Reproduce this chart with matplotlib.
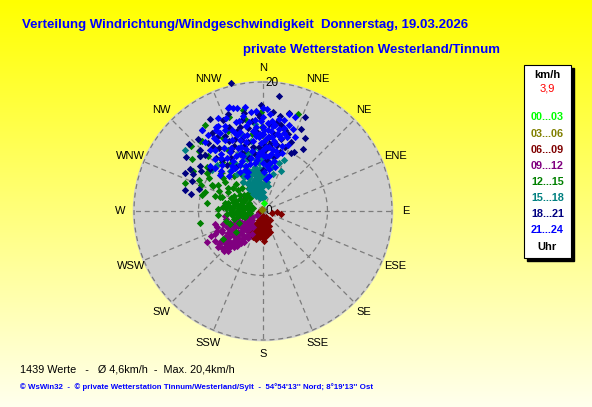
import numpy as np
import matplotlib
matplotlib.use("Agg")
import matplotlib.pyplot as plt
from matplotlib.patches import Rectangle

plt.rcParams['font.family'] = ['Liberation Sans', 'DejaVu Sans']

W, H = 592, 407

title1 = "Verteilung Windrichtung/Windgeschwindigkeit  Donnerstag, 19.03.2026"
title2 = "private Wetterstation Westerland/Tinnum"
stats_text = "1439 Werte   -   \u00d8 4,6km/h  -  Max. 20,4km/h"
credit_text = ("\u00a9 WsWin32  -  \u00a9 private Wetterstation Tinnum/Westerland/Sylt  -  "
               "54\u00b054'13'' Nord; 8\u00b019'13'' Ost")
current_speed = "3,9"

directions = ["N", "NNE", "NE", "ENE", "E", "ESE", "SE", "SSE",
              "S", "SSW", "SW", "WSW", "W", "WNW", "NW", "NNW"]
ring_labels = [(20, "20"), (10, "10"), (0, "0")]

hour_labels = ["00...03", "03...06", "06...09", "09...12",
               "12...15", "15...18", "18...21", "21...24"]
hour_colors = ["#00ff00", "#808000", "#800000", "#800080",
               "#008000", "#008080", "#000080", "#0000ff"]

# (direction in degrees, speed in km/h) per three-hour block
h00 = [(5, 1.2)]
h03 = [(322, 0.3), (300, 0.2)]
h06 = [(261, 0.7), (105, 1.4), (93, 2.1), (98, 2.8), (188, 1.4), (179, 2.4), (175, 3.5),
       (200, 3.7), (201, 4.3), (189, 3.0), (163, 2.0), (212, 3.8), (207, 2.1), (176, 4.0),
       (170, 3.0), (183, 3.3), (195, 2.6), (186, 4.1), (172, 2.2), (166, 2.9), (192, 1.9),
       (203, 3.0), (180, 1.6), (160, 1.5), (150, 1.0), (194, 4.4), (178, 4.6), (209, 4.4),
       (198, 3.4), (184, 2.0), (168, 3.7), (214, 2.9), (190, 3.8), (174, 1.3), (205, 4.0),
       (220, 3.4), (196, 1.2), (140, 1.8), (185, 3.6), (188, 2.5), (193, 3.2), (197, 4.1),
       (202, 2.4), (207, 3.2), (211, 2.5), (172, 3.2), (177, 3.0), (181, 4.2), (169, 2.5),
       (162, 3.5), (157, 2.5), (181, 0.8), (204, 1.5)]
h09 = [(255, 7.7), (241, 10.0), (243, 7.2), (238, 6.4), (240, 5.0), (239, 3.2), (231, 2.2),
       (237, 1.2), (223, 6.8), (220, 4.8), (236, 7.1), (223, 5.7), (227, 8.1), (276, 6.3),
       (308, 3.6), (228, 3.5), (232, 4.2), (235, 5.5), (229, 6.0), (225, 7.4), (230, 7.6),
       (233, 8.5), (244, 8.3), (246, 6.1), (248, 4.6), (245, 3.9), (250, 5.4), (252, 6.6),
       (218, 6.2), (215, 5.3), (213, 4.4), (217, 3.5), (221, 2.8), (226, 2.5), (242, 2.6),
       (234, 3.0), (230, 5.0), (226, 5.2), (222, 7.6), (219, 7.1), (216, 6.8), (224, 8.6),
       (231, 8.9), (238, 8.8), (244, 9.0), (251, 7.6), (249, 3.0), (256, 4.2), (258, 5.8),
       (262, 6.0), (236, 4.0), (241, 5.8), (233, 6.6), (228, 7.0), (212, 5.6), (210, 4.8),
       (212, 3.0), (206, 4.0), (214, 6.0), (217, 5.0), (220, 6.0), (222, 4.0), (225, 3.0),
       (227, 4.5), (229, 5.5), (232, 5.8), (234, 7.0), (237, 6.0), (239, 4.5), (241, 3.8),
       (243, 5.0), (245, 7.0), (247, 7.8), (235, 8.0), (228, 8.6), (221, 8.2), (219, 6.6),
       (224, 6.3), (231, 3.4), (236, 2.6), (240, 2.0), (244, 2.5), (226, 7.8)]
h12 = [(268, 3.8), (286, 2.4), (263, 4.9), (252, 2.9), (285, 1.6), (286, 3.4), (266, 5.6),
       (278, 8.8), (259, 10.0), (276, 6.2), (287, 4.8), (290, 12.8), (306, 13.7), (296, 11.1),
       (308, 11.1), (297, 8.9), (312, 8.7), (308, 7.4), (299, 6.2), (288, 9.5), (285, 9.8),
       (289, 6.8), (305, 4.3), (311, 3.4), (307, 5.8), (318, 14.5), (326, 16.0), (319, 14.3),
       (349, 14.6), (349, 16.0), (359, 15.4), (359, 13.1), (359, 11.8), (20, 16.0), (331, 12.9),
       (313, 13.6), (296, 8.7), (288, 7.0), (235, 7.5), (300, 2.5), (315, 2.8), (322, 3.6),
       (330, 4.2), (318, 4.8), (325, 5.5), (310, 5.0), (295, 3.5), (292, 5.3), (280, 4.5),
       (275, 3.0), (272, 5.0), (262, 3.5), (258, 4.0), (270, 2.0), (280, 2.8), (298, 4.0),
       (303, 6.5), (295, 7.5), (282, 6.0), (273, 7.0), (265, 7.0), (335, 3.0), (340, 4.5),
       (345, 3.5), (338, 6.0), (330, 6.5), (320, 7.0), (315, 6.0), (310, 8.0), (302, 9.8),
       (293, 10.5), (320, 10.0), (326, 9.0), (334, 8.0), (344, 9.5), (330, 11.0), (315, 12.0),
       (352, 12.0), (3, 10.0), (340, 15.5), (336, 13.5), (255, 6.0), (248, 5.5), (244, 4.2),
       (233, 5.3), (260, 2.5), (264, 3.0), (266, 4.2), (270, 4.0), (272, 3.2), (276, 3.8),
       (278, 2.2), (282, 3.5), (284, 4.2), (288, 2.6), (290, 3.5), (294, 2.2), (268, 5.0),
       (274, 5.8), (279, 5.3), (256, 3.3), (262, 2.0), (276, 4.6), (283, 5.5), (291, 4.5),
       (297, 5.0), (302, 3.3), (310, 3.8), (316, 3.5), (255, 4.6), (287, 7.8), (300, 8.0),
       (304, 10.5), (312, 15.0), (300, 12.5)]
h15 = [(308, 15.4), (309, 10.1), (24, 6.8), (333, 3.0), (338, 3.5), (343, 4.0), (348, 4.5),
       (353, 5.0), (357, 5.5), (335, 5.0), (340, 5.8), (345, 6.5), (350, 7.0), (355, 7.5),
       (359, 8.0), (338, 7.5), (343, 8.5), (348, 9.0), (352, 9.8), (330, 6.0), (325, 7.0),
       (320, 8.0), (330, 8.5), (335, 9.5), (356, 3.5), (352, 2.5), (346, 2.0), (340, 2.4),
       (358, 2.0), (2, 4.0), (5, 5.5), (8, 6.5), (12, 7.0), (15, 6.0), (4, 7.5), (10, 8.5),
       (18, 7.8), (22, 8.5), (0, 6.5), (357, 9.5), (2, 10.0), (350, 11.0), (345, 12.0),
       (340, 10.5), (328, 11.5), (322, 12.0), (315, 10.0), (355, 13.5), (1, 3.0), (6, 2.2),
       (12, 4.0), (336, 4.0), (330, 4.8), (326, 5.5), (345, 9.0), (3, 5.0), (8, 4.5),
       (342, 3.0), (347, 3.5), (351, 4.0), (355, 4.5), (359, 4.0), (349, 5.5), (354, 6.0),
       (344, 5.0), (338, 4.5), (332, 3.5), (334, 4.5), (337, 5.5), (341, 6.0), (346, 6.0),
       (351, 6.5), (356, 6.5), (359, 6.0), (353, 3.0), (358, 3.0), (349, 2.8), (344, 2.6),
       (336, 2.5), (330, 3.0), (327, 4.0), (333, 6.5), (339, 7.0), (352, 8.0)]
h18 = [(346, 20.4), (8, 18.0), (15, 15.7), (28, 10.3), (283, 11.4), (298, 12.3), (311, 12.9),
       (323, 15.8), (314, 13.6), (358, 14.6), (359, 16.4), (336, 15.4), (349, 15.4), (12, 13.6),
       (15, 13.0), (321, 13.5), (314, 12.5), (311, 13.0), (322, 12.6), (321, 10.2), (329, 9.5),
       (11, 8.6), (0, 6.4), (340, 16.0), (338, 14.0), (333, 13.0), (327, 14.5), (330, 16.5),
       (318, 15.0), (345, 13.5), (350, 13.0), (355, 12.5), (0, 12.0), (4, 13.5), (8, 12.0),
       (6, 15.5), (18, 12.5), (22, 11.5), (25, 14.0), (357, 15.0), (343, 11.5), (348, 11.0),
       (336, 11.0), (332, 10.5), (325, 12.0), (318, 11.0), (308, 10.5), (303, 11.5), (293, 12.0),
       (289, 10.5), (340, 9.5), (345, 8.5), (352, 9.0), (356, 10.0), (2, 9.5), (6, 10.5),
       (12, 10.5), (16, 9.5), (4, 8.0), (342, 13.0), (328, 8.0), (322, 9.0), (10, 15.0),
       (24, 16.0), (30, 13.0), (33, 11.5), (296, 13.5), (305, 14.5), (312, 15.5), (334, 12.0),
       (339, 12.0), (347, 14.5), (353, 14.0), (0, 13.0), (5, 11.5), (9, 14.0), (14, 11.5),
       (19, 10.5), (26, 10.0), (285, 12.5), (300, 13.0), (306, 12.0), (328, 13.5), (344, 10.5),
       (351, 10.0), (0, 10.5)]
h21 = [(342, 17.0), (344, 16.6), (350, 16.3), (4, 15.1), (355, 13.1), (354, 12.3), (355, 11.6),
       (0, 13.1), (0, 12.0), (3.5, 13.6), (3.7, 12.6), (7, 13.2), (10, 12.2), (330, 14.5),
       (331, 13.8), (335, 13.9), (326, 13.6), (344, 12.8), (348, 12.1), (14, 11.6), (18, 12.1),
       (341, 16.9), (323, 15.7), (331, 14.9), (343, 14.5), (355, 14.2), (8, 13.5), (14, 13.2),
       (15, 15.6), (19, 15.4), (310, 10.8), (310, 8.8), (322, 12.0), (336, 12.0), (338, 10.5),
       (340, 9.0), (342, 11.5), (345, 10.0), (347, 8.5), (350, 9.5), (352, 11.0), (353, 8.0),
       (356, 9.0), (358, 10.5), (0, 9.5), (2, 11.0), (3, 8.5), (5, 10.0), (7, 11.5), (8, 9.0),
       (10, 10.5), (12, 9.5), (0, 7.5), (340, 7.5), (337, 8.5), (334, 9.5), (331, 10.5),
       (328, 11.5), (332, 12.5), (326, 10.0), (322, 10.5), (318, 9.5), (314, 9.0), (316, 7.5),
       (325, 8.5), (330, 7.0), (335, 6.0), (2, 6.0), (5, 7.0), (8, 7.5), (14, 9.0), (16, 10.5),
       (12, 12.0), (20, 13.5), (23, 12.5), (4, 11.5), (358, 12.0), (345, 14.5), (338, 15.5),
       (334, 16.0), (348, 15.0), (353, 15.5), (0, 14.5), (6, 14.0), (10, 14.5), (327, 13.0),
       (320, 14.0), (324, 11.0), (340, 13.0), (0, 16.0), (2, 15.8), (332, 15.0), (336, 14.5),
       (339, 13.5), (341, 12.5), (346, 12.0), (349, 13.5), (351, 14.0), (356, 15.5), (359, 14.0),
       (1, 12.5), (3, 10.0), (6, 12.5), (9, 11.0), (11, 13.0), (13, 14.5), (17, 14.0), (21, 11.0),
       (333, 11.0), (329, 9.0), (327, 8.0), (321, 8.0), (319, 12.5), (317, 11.0), (312, 10.0),
       (324, 14.5), (338, 9.5), (341, 10.5), (344, 7.5), (351, 7.5), (355, 8.5), (358, 9.0),
       (1, 8.5), (339, 6.5), (336, 7.0), (333, 8.0), (346, 11.0), (353, 12.5), (357, 11.5),
       (6, 8.5), (9, 9.5), (15, 12.5), (346, 16.5), (8, 6.5), (12, 8.0), (15, 7.0), (10, 5.5),
       (18, 9.5), (6, 5.0)]

# draw order: morning first, evening last, the few calm points on top
draw_order = [(h06, 2), (h09, 3), (h12, 4), (h15, 5), (h18, 6), (h21, 7), (h03, 1), (h00, 0)]


def fx(px):
    return px / W


def fy(py):
    return 1 - py / H


fig = plt.figure(figsize=(W / 100, H / 100), dpi=100)

# yellow background fading to cream at the bottom
bg = fig.add_axes([0, 0, 1, 1], zorder=-10)
grad = np.linspace(0, 1, 256)[:, None]
top = np.array([1.0, 1.0, 0.0])
bottom = np.array([1.0, 1.0, 0.93])
img = top[None, None, :] * (1 - grad[..., None]) + bottom[None, None, :] * grad[..., None]
bg.imshow(img, aspect="auto", extent=[0, 1, 0, 1])
bg.axis("off")

# polar plot: centre (263, 211) px, 6.45 px per km/h
rmax = 20.2
scale = 6.45
cx, cy = 263, 211
rad = rmax * scale
ax = fig.add_axes([fx(cx - rad), fy(cy + rad), 2 * rad / W, 2 * rad / H], polar=True)
ax.set_theta_zero_location("N")
ax.set_theta_direction(-1)
ax.set_ylim(0, rmax)
ax.set_facecolor("#cfcfcf")
ax.spines["polar"].set_visible(False)
ax.set_xticks([])
ax.set_yticks([])
ax.grid(False)

dash = (0, (4, 3))
grid_col = "#7c7c7c"
for k in range(16):
    t = np.deg2rad(k * 22.5)
    ax.plot([t, t], [0, rmax], color=grid_col, lw=0.9, ls=dash, zorder=1)
circ = np.linspace(0, 2 * np.pi, 400)
for r in (10, 20):
    ax.plot(circ, np.full_like(circ, r), color=grid_col, lw=0.9, ls=dash, zorder=1)

for k, name in enumerate(directions):
    ax.text(np.deg2rad(k * 22.5), 22.2, name, ha="center", va="center",
            fontsize=8, color="black", clip_on=False)

for r, lab in ring_labels:
    ax.annotate(lab, xy=(0, r), xytext=(1.6, -1 if r == 20 else 0),
                textcoords="offset points", ha="left", va="center",
                fontsize=8.5, color="black", zorder=2)

for pts, ci in draw_order:
    d = np.deg2rad([p[0] for p in pts])
    s = [p[1] for p in pts]
    ax.scatter(d, s, marker="D", s=14, color=hour_colors[ci], linewidths=0,
               zorder=3, clip_on=False)

# titles
fig.text(fx(22), fy(25), title1, ha="left", va="center", fontsize=9.5,
         fontweight="bold", color="#0000ff")
fig.text(fx(243), fy(50), title2, ha="left", va="center", fontsize=9.5,
         fontweight="bold", color="#0000ff")

# legend box with shadow
bx0, bx1, by0, by1 = 524, 571, 65, 258
fig.patches.append(Rectangle((fx(bx0 + 3), fy(by1 + 3)), (bx1 - bx0) / W, (by1 - by0) / H,
                             transform=fig.transFigure, facecolor="black",
                             edgecolor="black", zorder=1))
fig.patches.append(Rectangle((fx(bx0), fy(by1)), (bx1 - bx0) / W, (by1 - by0) / H,
                             transform=fig.transFigure, facecolor="white",
                             edgecolor="black", lw=0.8, zorder=2))
lx = fx(547.5)
fig.text(lx, fy(75.5), "km/h", ha="center", va="center", fontsize=8,
         fontweight="bold", color="black", zorder=3)
fig.text(lx, fy(88.5), current_speed, ha="center", va="center", fontsize=8,
         color="red", zorder=3)
for i, (lab, col) in enumerate(zip(hour_labels, hour_colors)):
    fig.text(lx, fy(117.5 + i * 16.1), lab, ha="center", va="center", fontsize=7.8,
             fontweight="bold", color=col, zorder=3)
fig.text(lx, fy(246.5), "Uhr", ha="center", va="center", fontsize=8,
         fontweight="bold", color="black", zorder=3)

# footer
fig.text(fx(20), fy(369), stats_text, ha="left", va="center", fontsize=7.8, color="black")
fig.text(fx(20), fy(387), credit_text, ha="left", va="center", fontsize=5.7,
         fontweight="bold", color="#0000ff")

fig.savefig("out.png", dpi=100)
